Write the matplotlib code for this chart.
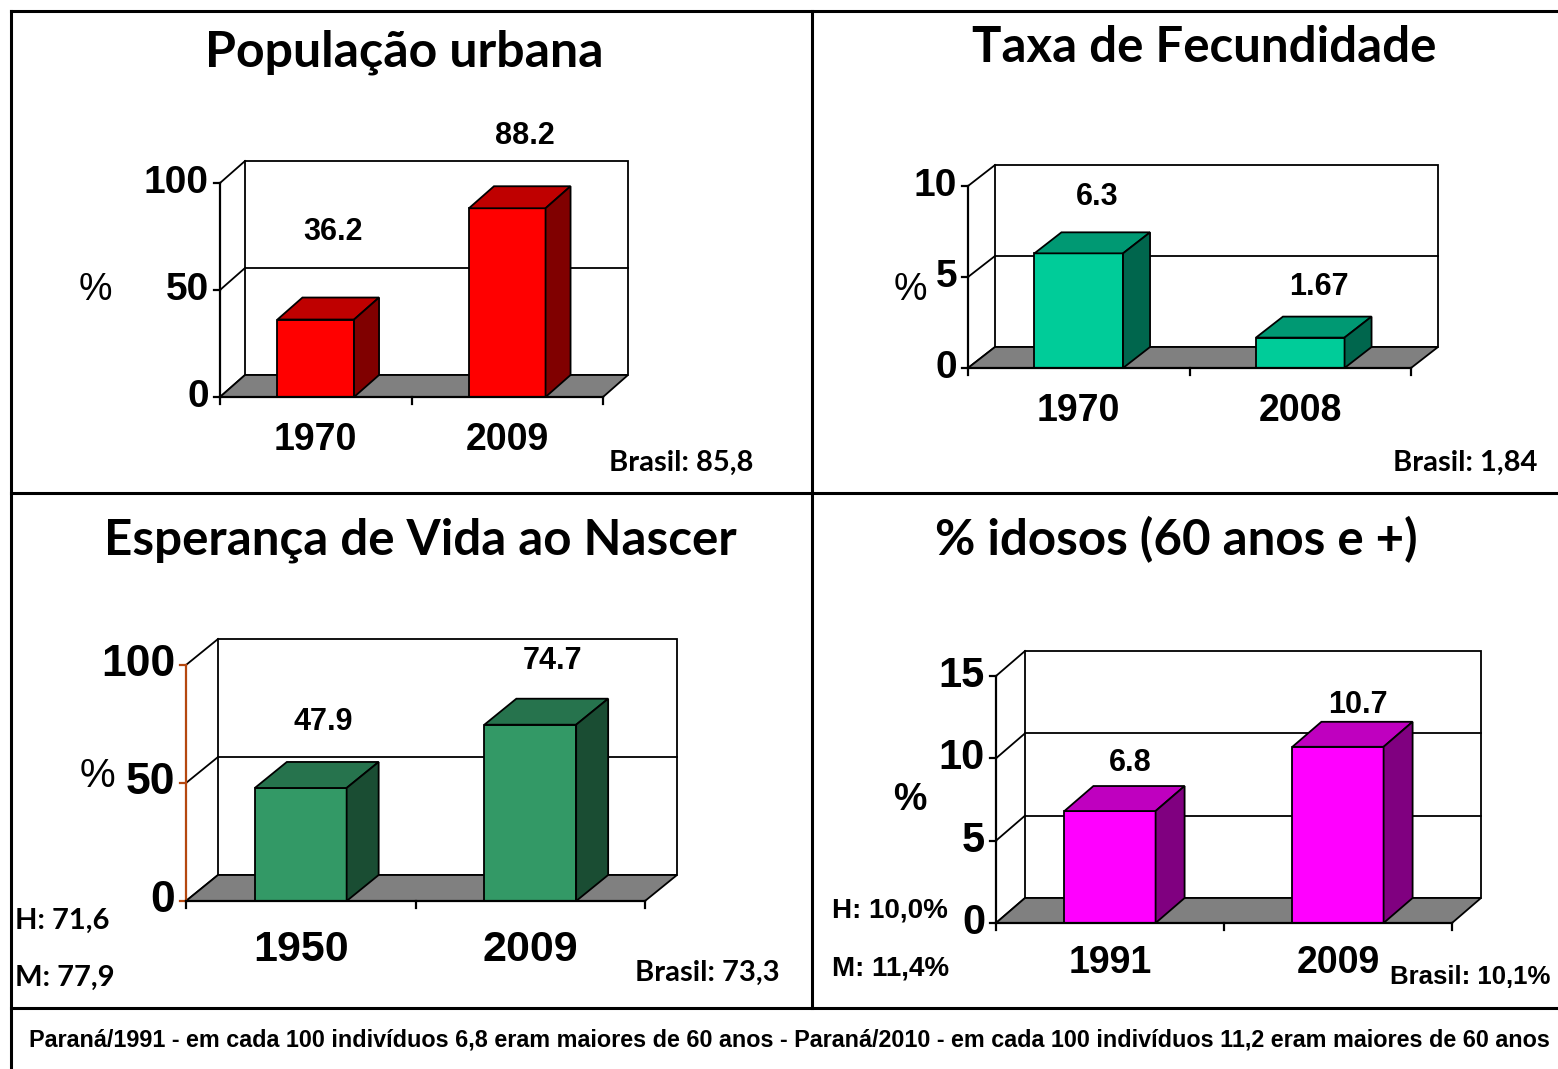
import matplotlib
matplotlib.use("Agg")
import matplotlib.pyplot as plt
import matplotlib.colors as mcolors
from matplotlib import font_manager
from matplotlib.patches import Polygon
from matplotlib.lines import Line2D

# ---- data ----
urb_years = ["1970", "2009"]
urb_vals = [36.2, 88.2]
fec_years = ["1970", "2008"]
fec_vals = [6.3, 1.67]
vida_years = ["1950", "2009"]
vida_vals = [47.9, 74.7]
ido_years = ["1991", "2009"]
ido_vals = [6.8, 10.7]

titles = ["População urbana", "Taxa de Fecundidade",
          "Esperança de Vida ao Nascer", "% idosos (60 anos e +)"]
footer = ("Paraná/1991 - em cada 100 indivíduos 6,8 eram maiores de 60 anos - "
          "Paraná/2010 - em cada 100 indivíduos 11,2 eram maiores de 60 anos")

W, H = 1558, 1069


def pick(*names):
    for n in names:
        try:
            font_manager.findfont(font_manager.FontProperties(family=n),
                                  fallback_to_default=False)
            return n
        except Exception:
            pass
    return "DejaVu Sans"


NARROW = pick("Liberation Sans Narrow", "Liberation Sans")
HUMAN = pick("Lato", "Open Sans", "DejaVu Sans")
COND = pick("Liberation Sans Narrow", "DejaVu Sans Condensed", "Liberation Sans")

fig = plt.figure(figsize=(W / 100, H / 100), dpi=100)
fig.patch.set_facecolor("white")


def fx(x):
    return x / W


def fy(y):
    return 1 - y / H


def fline(xs, ys, lw=2.2):
    fig.add_artist(Line2D([fx(v) for v in xs], [fy(v) for v in ys],
                          transform=fig.transFigure, color="black", lw=lw))


def ftext(x, y, s, size, family=HUMAN, weight="bold", ha="center", va="center"):
    return fig.text(fx(x), fy(y), s, fontsize=size, family=family,
                    fontweight=weight, ha=ha, va=va)


def fit(t, width_px):
    r = fig.canvas.get_renderer()
    w = t.get_window_extent(r).width
    t.set_fontsize(t.get_fontsize() * width_px / w)


def shade(c, f):
    r, g, b = mcolors.to_rgb(c)
    return (r * f, g * f, b * f)


def panel(cats, vals, ymax, ticks, color, box, depth, tick_size, cat_size,
          cat_gap, lab_off, val_size=20, axis_color="black"):
    x0, x1, y0, ytop = box
    dx, dy = depth
    n = len(cats)
    ax = fig.add_axes([fx(x0), fy(y0), (x1 - x0) / W, (y0 - ytop) / H])
    ax.set_xlim(0, n)
    ax.set_ylim(0, ymax)
    ax.axis("off")
    sx = n / (x1 - x0)          # data units per pixel
    sy = ymax / (y0 - ytop)
    ddx, ddy = dx * sx, dy * sy
    kw = dict(clip_on=False)
    lw = 1.3

    # back wall
    ax.add_patch(Polygon([(ddx, ddy), (n + ddx, ddy), (n + ddx, ymax + ddy),
                          (ddx, ymax + ddy)], closed=True, fc="white",
                         ec="black", lw=lw, zorder=1, **kw))
    for t in ticks[1:-1]:
        ax.plot([ddx, n + ddx], [t + ddy, t + ddy], color="black", lw=lw,
                zorder=1.5, **kw)
    # left wall
    for t in ticks:
        ax.plot([0, ddx], [t, t + ddy], color="black", lw=lw, zorder=1.5, **kw)
    # floor
    ax.add_patch(Polygon([(0, 0), (n, 0), (n + ddx, ddy), (ddx, ddy)],
                         closed=True, fc="#808080", ec="black", lw=lw,
                         zorder=2, **kw))
    # bars
    w = 0.4
    centers = [i + 0.5 for i in range(n)]
    ax.bar(centers, vals, width=w, color=color, edgecolor="black", lw=lw,
           zorder=4, **kw)
    for c, v in zip(centers, vals):
        l, r = c - w / 2, c + w / 2
        ax.add_patch(Polygon([(l, v), (r, v), (r + ddx, v + ddy),
                              (l + ddx, v + ddy)], closed=True,
                             fc=shade(color, 0.75), ec="black", lw=lw,
                             zorder=4, **kw))
        ax.add_patch(Polygon([(r, 0), (r + ddx, ddy), (r + ddx, v + ddy),
                              (r, v)], closed=True, fc=shade(color, 0.5),
                             ec="black", lw=lw, zorder=4, **kw))
    # value labels
    for c, v, off in zip(centers, vals, lab_off):
        ax.annotate(f"{v:g}", (c, v), xytext=(dx * 0.7 * 0.72, off * 0.72),
                    textcoords="offset points", ha="center", va="center",
                    fontsize=val_size, fontweight="bold", family=NARROW,
                    zorder=6)
    # front vertical axis
    ax.plot([0, 0], [0, ymax], color=axis_color, lw=1.6, zorder=5, **kw)
    for t in ticks:
        ax.plot([-6 * sx, 0], [t, t], color=axis_color, lw=1.6, zorder=5, **kw)
        ax.annotate(f"{t:g}", (0, t), xytext=(-11 * 0.72, 0),
                    textcoords="offset points", ha="right", va="center",
                    fontsize=tick_size, fontweight="bold", family=NARROW)
    # front x axis
    ax.plot([0, n], [0, 0], color="black", lw=1.6, zorder=5, **kw)
    for i in range(n + 1):
        ax.plot([i, i], [0, -7 * sy], color="black", lw=1.6, zorder=5, **kw)
    for c, cat in zip(centers, cats):
        ax.annotate(cat, (c, 0), xytext=(0, -cat_gap * 0.72),
                    textcoords="offset points", ha="center", va="center",
                    fontsize=cat_size, fontweight="bold", family=NARROW)
    return ax


# ---- panels ----
panel(urb_years, urb_vals, 100, [0, 50, 100], "#FF0000",
      (220, 603, 397, 183), (25, 22), 28, 27, 43, [88, 72], val_size=22)
panel(fec_years, fec_vals, 10, [0, 5, 10], "#00CC99",
      (968, 1411, 368, 186), (27, 21), 28, 27, 43, [56, 51], val_size=22)
panel(vida_years, vida_vals, 100, [0, 50, 100], "#339966",
      (186, 645, 901, 665), (32, 26), 32, 31, 49, [66, 64], val_size=22,
      axis_color="#B5470F")
panel(ido_years, ido_vals, 15, [0, 5, 10, 15], "#FF00FF",
      (996, 1452, 923, 676), (29, 25), 30, 27, 40, [48, 42], val_size=22)

# ---- titles / notes ----
t1 = ftext(404, 52, titles[0], 34)
t2 = ftext(1204, 48, titles[1], 34)
t3 = ftext(420, 540, titles[2], 34)
t4 = ftext(1176, 540, titles[3], 34)

ftext(95, 290, "%", 27, family=NARROW, weight="normal")
ftext(910, 290, "%", 27, family=NARROW, weight="normal")
ftext(97, 776, "%", 29, family=NARROW, weight="normal")
ftext(910, 800, "%", 27, family=NARROW)

ftext(753, 463, "Brasil: 85,8", 21, ha="right")
ftext(1537, 463, "Brasil: 1,84", 21, ha="right")
ftext(780, 973, "Brasil: 73,3", 21, ha="right")
ftext(1390, 977, "Brasil: 10,1%", 18.5, family=NARROW, ha="left")
ftext(15, 921, "H: 71,6", 21, ha="left")
ftext(15, 978, "M: 77,9", 21, ha="left")
ftext(832, 910, "H: 10,0%", 20, family=NARROW, ha="left")
ftext(832, 968, "M: 11,4%", 20, family=NARROW, ha="left")

tf = ftext(789, 1040, footer, 17, family=COND)

# ---- frame ----
fline([11, 11], [11, 1069])
fline([11, 1558], [11, 11])
fline([812, 812], [11, 1008])
fline([11, 1558], [493, 493])
fline([11, 1558], [1008, 1008])

fig.canvas.draw()
fit(t1, 400)
fit(t2, 464)
fit(t3, 633)
fit(t4, 483)
fit(tf, 1527)

fig.savefig("out.png", dpi=100, facecolor="white")
